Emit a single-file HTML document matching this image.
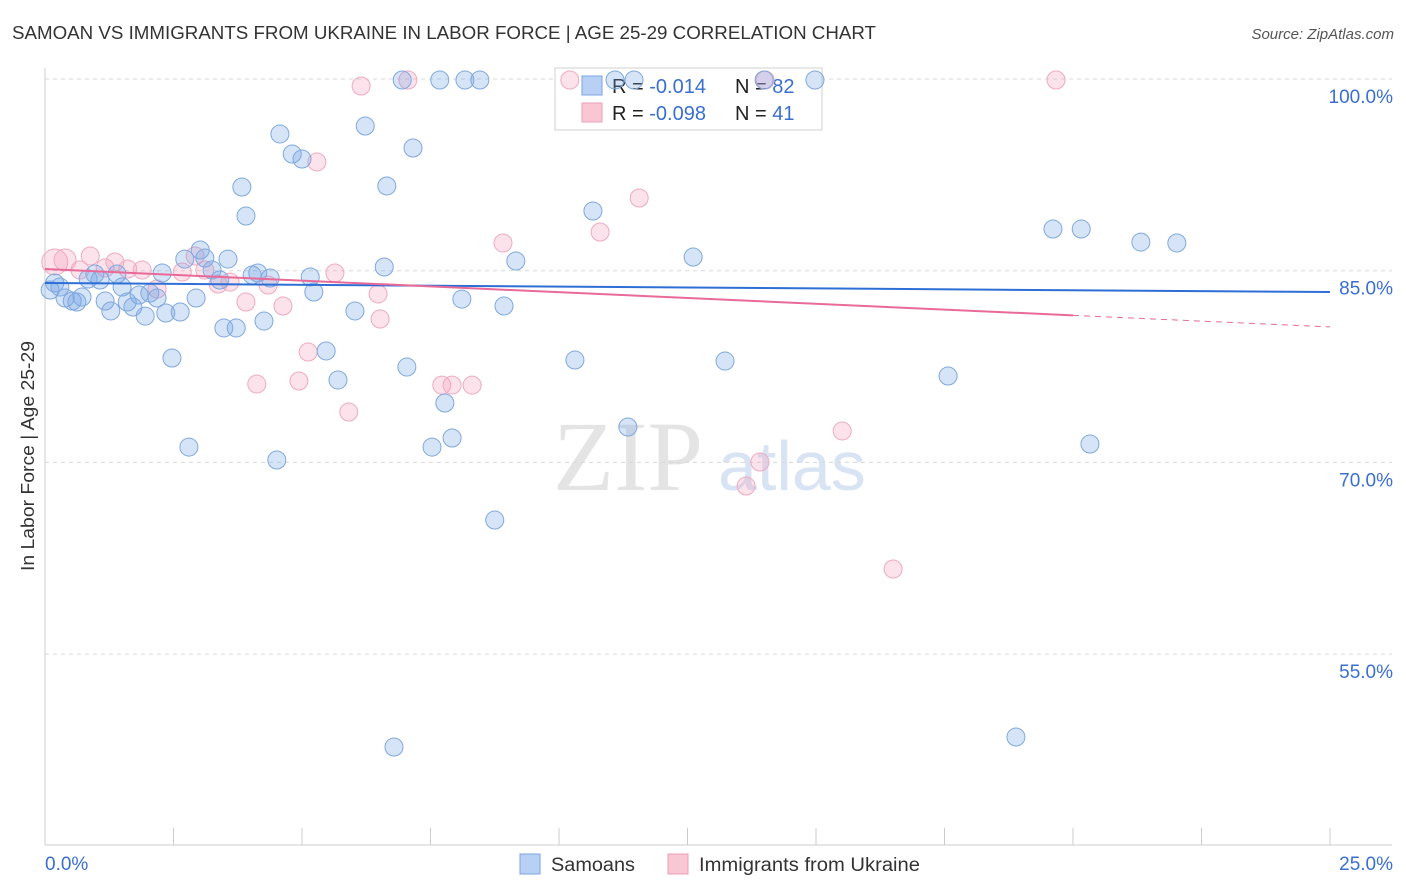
<!DOCTYPE html>
<html><head><meta charset="utf-8"><style>
body{margin:0;background:#fff;font-family:"Liberation Sans",sans-serif}
svg{display:block}
</style></head><body>
<svg id="chart" width="1406" height="892" xmlns="http://www.w3.org/2000/svg">
<text x="12" y="39" font-size="18.5" fill="#333" textLength="864" lengthAdjust="spacingAndGlyphs">SAMOAN VS IMMIGRANTS FROM UKRAINE IN LABOR FORCE | AGE 25-29 CORRELATION CHART</text>
<text x="1394" y="39" font-size="15" fill="#555" font-style="italic" text-anchor="end">Source: ZipAtlas.com</text>
<text x="0" y="0" transform="translate(34,456) rotate(-90)" font-size="18.5" fill="#333" text-anchor="middle" textLength="230" lengthAdjust="spacingAndGlyphs">In Labor Force | Age 25-29</text>
<text x="553" y="490" font-size="100" fill="#e4e4e4" font-family="Liberation Serif,serif">ZIP</text>
<text x="718" y="490" font-size="70" fill="#d8e4f4">atlas</text>
<g id="grid"></g>
<g id="axes"></g>
<g>
<rect x="555" y="68" width="267" height="62" fill="#fff" stroke="#d0d0d0"/>
<rect x="582" y="76" width="20" height="19" fill="#b8d0f4" stroke="#7aa6e0"/>
<rect x="582" y="103" width="20" height="19" fill="#f9c6d4" stroke="#eaa0b8"/>
<text x="612" y="93" font-size="20" fill="#222">R = <tspan fill="#3a6fd0">-0.014</tspan><tspan x="735">N = </tspan><tspan fill="#3a6fd0">82</tspan></text>
<text x="612" y="120" font-size="20" fill="#222">R = <tspan fill="#3a6fd0">-0.098</tspan><tspan x="735">N = </tspan><tspan fill="#3a6fd0"> 41</tspan></text>
</g>
<g id="pts"></g>
<g id="trends"></g>
<g>
<rect x="520" y="854" width="20" height="20" fill="#b8d0f4" stroke="#7aa6e0"/>
<text x="551" y="871" font-size="19" fill="#333" textLength="84" lengthAdjust="spacingAndGlyphs">Samoans</text>
<rect x="668" y="854" width="20" height="20" fill="#f9c6d4" stroke="#eaa0b8"/>
<text x="699" y="871" font-size="19" fill="#333" textLength="221" lengthAdjust="spacingAndGlyphs">Immigrants from Ukraine</text>
</g>
</svg>
<script>
const blueX=[0.10,0.19,0.29,0.39,0.53,0.62,0.72,0.84,0.97,1.07,1.17,1.28,1.40,1.50,1.60,1.71,1.83,1.95,2.04,2.18,2.28,2.35,2.47,2.63,2.72,2.80,2.94,3.02,3.11,3.25,3.40,3.48,3.56,3.72,3.83,3.91,4.03,4.14,4.26,4.38,4.51,4.57,4.81,5.00,5.16,5.23,5.47,5.70,6.03,6.23,6.60,6.65,6.79,6.95,7.04,7.16,7.53,7.68,7.78,7.92,8.11,8.17,8.46,8.75,8.93,9.16,10.31,10.66,11.09,11.34,11.46,12.61,13.23,13.99,14.98,17.57,18.89,19.61,20.16,20.33,21.32,22.02];
const blueY=[83.49,84.04,83.72,82.86,82.63,82.55,82.94,84.35,84.74,84.27,82.63,81.85,84.74,83.72,82.55,82.16,83.10,81.45,83.25,82.86,84.82,81.69,78.17,81.77,85.91,71.20,82.86,86.62,85.99,85.05,84.27,80.52,85.91,80.52,91.55,89.28,84.66,84.82,81.06,84.43,70.19,95.70,94.13,93.74,84.51,83.33,78.72,76.45,81.85,96.32,85.29,91.63,47.73,99.92,77.46,94.60,71.20,99.92,74.65,71.91,82.78,99.92,99.92,65.49,82.24,85.76,78.01,89.67,99.92,72.77,99.92,86.07,77.93,99.92,99.92,76.76,48.51,88.26,88.26,71.44,87.24,87.17];
const pinkX=[0.19,0.39,0.68,0.88,1.17,1.36,1.61,1.89,2.18,2.67,2.92,3.11,3.37,3.60,3.91,4.12,4.34,4.63,4.94,5.12,5.29,5.64,5.91,6.15,6.48,6.52,7.06,7.72,7.92,8.31,8.91,10.21,10.80,11.56,13.64,13.91,14.01,15.51,16.50,19.67];
const pinkY=[85.68,85.84,85.05,86.15,85.21,85.68,85.13,85.05,83.57,84.90,86.15,85.05,83.96,84.11,82.55,76.13,83.88,82.24,76.37,78.64,93.51,84.82,73.94,99.45,83.18,81.22,99.92,76.05,76.05,76.05,87.17,99.92,88.03,90.69,68.15,70.03,99.92,72.46,61.66,99.92];
const pinkR=[13,11,9,9,9,9,9,9,9,9,9,9,9,9,9,9,9,9,9,9,9,9,9,9,9,9,9,9,9,9,9,9,9,9,9,9,9,9,9,9];
const yTicks=[100,85,70,55];
const yTickLabels=["100.0%","85.0%","70.0%","55.0%"];
const xTickLabels=["0.0%","25.0%"];
const blueTrend=[84.04,83.33];
const pinkTrend=[85.13,80.6];
const NS="http://www.w3.org/2000/svg";
const X=v=>45+v/25*1285;
const Y=v=>79+(100-v)*12.78;
function mk(t,a,p){const e=document.createElementNS(NS,t);for(const k in a)e.setAttribute(k,a[k]);p.appendChild(e);return e;}
const grid=document.getElementById('grid'),axes=document.getElementById('axes');
yTicks.forEach((v,i)=>{
 const l=mk('line',{x1:45,x2:1392,y1:Y(v),y2:Y(v),stroke:'#d8d8d8','stroke-dasharray':'4,4'},grid);
 
 
 const t=mk('text',{x:1393,y:Y(v)+24,'font-size':19,fill:'#3a6fd0','text-anchor':'end'},axes);
 t.textContent=yTickLabels[i];
 
 
});
const ya=mk('line',{x1:45,x2:45,y1:68,y2:845,stroke:'#ccc'},axes);


const xa=mk('line',{x1:45,x2:1392,y1:845,y2:845,stroke:'#ccc'},axes);


for(let i=0;i<=10;i++){const t=mk('line',{x1:X(i*2.5),x2:X(i*2.5),y1:828,y2:845,stroke:'#ccc'},axes);
 
 }
const xl0=mk('text',{x:45,y:870,'font-size':19,fill:'#3a6fd0'},axes);xl0.textContent=xTickLabels[0];


const xl1=mk('text',{x:1393,y:870,'font-size':19,fill:'#3a6fd0','text-anchor':'end'},axes);xl1.textContent=xTickLabels[1];


const pts=document.getElementById('pts');
pinkX.forEach((x,i)=>{const c=mk('circle',{cx:X(x),cy:Y(pinkY[i]),r:pinkR[i],fill:'rgba(244,160,190,0.3)',stroke:'#eeaac0','stroke-width':1},pts);
 
 });
blueX.forEach((x,i)=>{const c=mk('circle',{cx:X(x),cy:Y(blueY[i]),r:9,fill:'rgba(120,165,230,0.3)',stroke:'#7fa8de','stroke-width':1},pts);
 
 });
const tr=document.getElementById('trends');
const b=mk('line',{x1:X(0),y1:Y(blueTrend[0]),x2:X(25),y2:Y(blueTrend[1]),stroke:'#2e6fd6','stroke-width':2},tr);


const pm=pinkTrend[0]+(pinkTrend[1]-pinkTrend[0])*(20/25);
const p1=mk('line',{x1:X(0),y1:Y(pinkTrend[0]),x2:X(20),y2:Y(pm),stroke:'#e86a98','stroke-width':2},tr);


const p2=mk('line',{x1:X(20),y1:Y(pm),x2:X(25),y2:Y(pinkTrend[1]),stroke:'#e86a98','stroke-width':1,'stroke-dasharray':'6,5'},tr);


</script>
</body></html>
